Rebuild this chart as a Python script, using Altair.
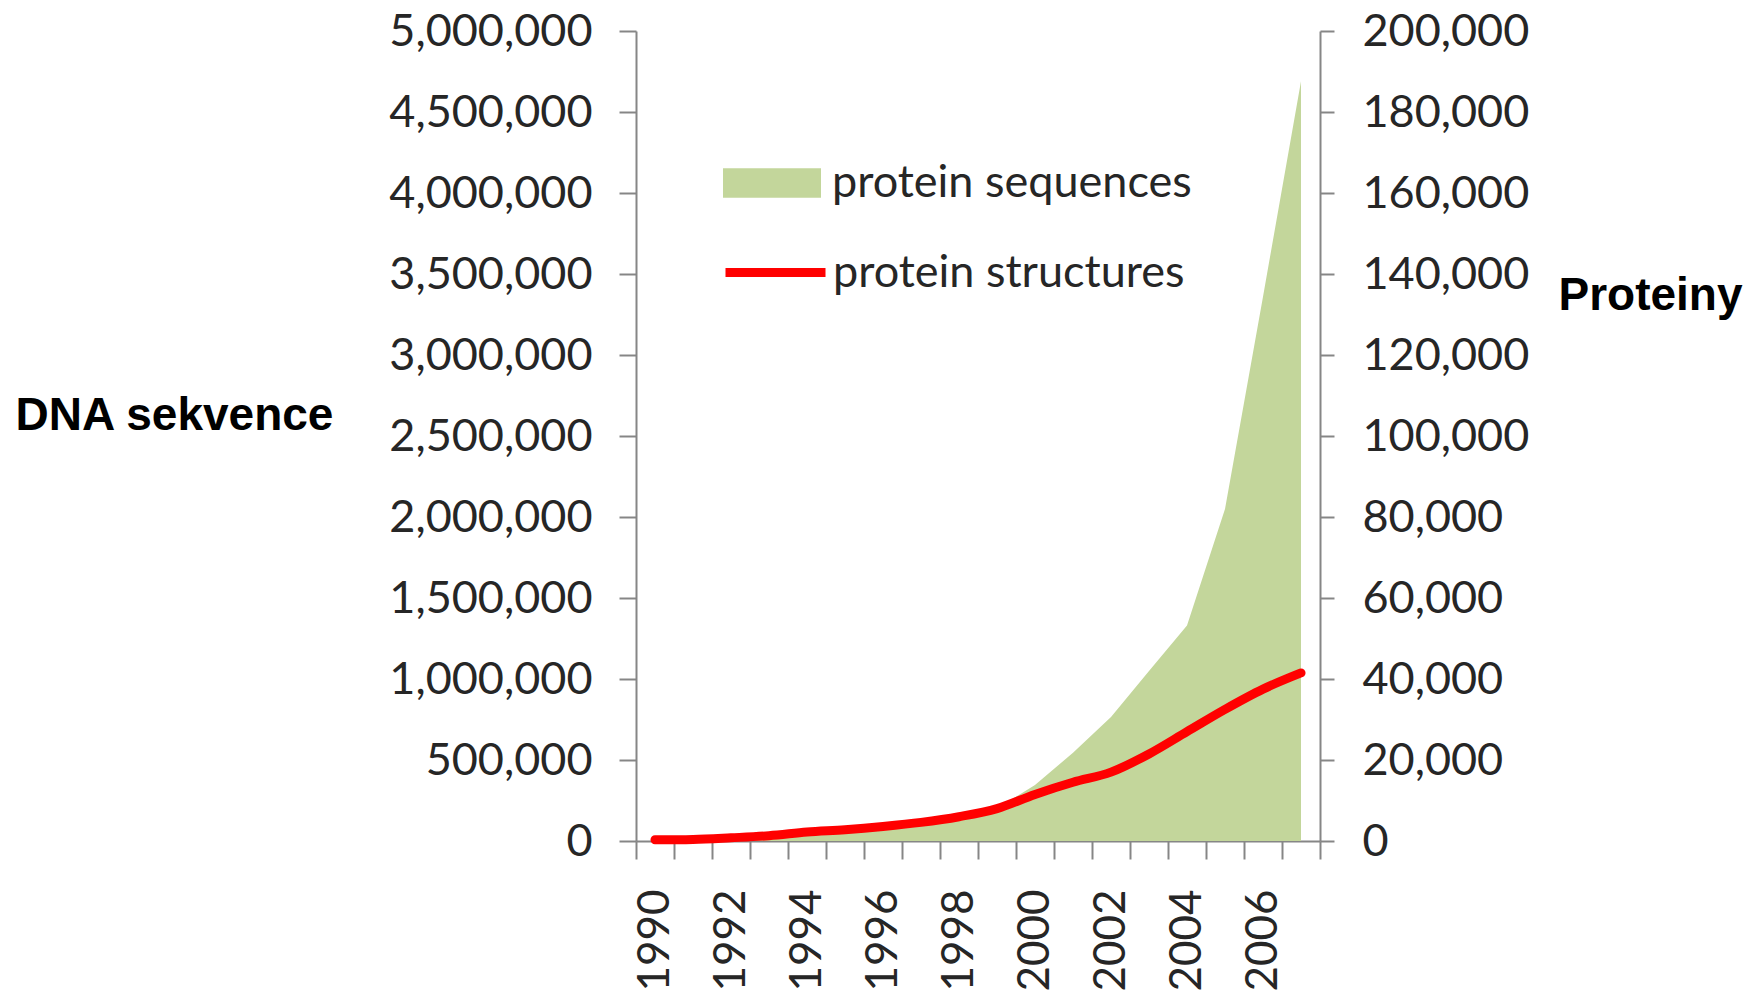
import altair as alt
import pandas as pd

# ---- data ----
years = [1990, 1991, 1992, 1993, 1994, 1995, 1996, 1997, 1998,
         1999, 2000, 2001, 2002, 2003, 2004, 2005, 2006, 2007]
protein_sequences = [10000, 15000, 22000, 35000, 55000, 70000, 90000, 115000, 150000,
                     200000, 345000, 545000, 765000, 1050000, 1330000, 2050000, 3360000, 4690000]
protein_structures = [300, 400, 800, 1300, 2200, 2800, 3600, 4600, 6000,
                      8000, 11500, 14500, 17000, 21500, 27000, 32500, 37500, 41500]

left_ticks = [0, 500000, 1000000, 1500000, 2000000, 2500000,
              3000000, 3500000, 4000000, 4500000, 5000000]
right_ticks = [0, 20000, 40000, 60000, 80000, 100000,
               120000, 140000, 160000, 180000, 200000]

series_names = ["protein sequences", "protein structures"]
colors = ["#C3D69B", "#FF0000"]

df = pd.DataFrame({"year": years, "seq": protein_sequences, "struct": protein_structures})

AX = "#868686"
TXT = "#262626"
LBL_FONT = "Lato"
LBL_SIZE = 45

x_enc = alt.X(
    "year:O",
    bandPosition=0.5,
    scale=alt.Scale(type="band", paddingInner=0, paddingOuter=0),
    axis=alt.Axis(
        title=None,
        tickBand="extent",
        labelAngle=270,
        labelExpr="datum.value % 2 === 0 ? datum.label : ''",
        labelFont=LBL_FONT,
        labelFontSize=44,
        labelColor=TXT,
        labelPadding=30,
        labelLimit=400,
        tickSize=18,
        tickColor=AX,
        tickWidth=2,
        domainColor=AX,
        domainWidth=2,
        grid=False,
    ),
)

area = (
    alt.Chart(df)
    .transform_calculate(series="'protein sequences'")
    .mark_area(opacity=1, interpolate="linear")
    .encode(
        x=x_enc,
        y=alt.Y(
            "seq:Q",
            scale=alt.Scale(domain=[0, 5000000], nice=False),
            axis=alt.Axis(
                orient="left",
                values=left_ticks,
                format=",.0f",
                grid=False,
                labelFont=LBL_FONT,
                labelFontSize=LBL_SIZE,
                labelColor=TXT,
                labelPadding=27,
                labelLimit=400,
                tickSize=17,
                tickColor=AX,
                tickWidth=2,
                domainColor=AX,
                domainWidth=2,
                title="DNA sekvence",
                titleAngle=0,
                titleFont="Liberation Sans",
                titleFontWeight="bold",
                titleFontSize=46,
                titleColor="#000000",
                titleAlign="left",
                titleBaseline="middle",
                titleX=-621,
                titleY=384,
                titleLimit=600,
            ),
        ),
        color=alt.Color(
            "series:N",
            title=None,
            scale=alt.Scale(domain=[series_names[0]], range=[colors[0]]),
            legend=alt.Legend(
                orient="none",
                legendX=87,
                legendY=103,
                padding=0,
                symbolType="M-1,-0.3H1V0.3H-1Z",
                symbolSize=9604,
                symbolStrokeWidth=0,
                symbolOpacity=1,
                labelFont=LBL_FONT,
                labelFontSize=LBL_SIZE,
                labelColor=TXT,
                labelOffset=11,
                labelLimit=600,
            ),
        ),
    )
)

line = (
    alt.Chart(df)
    .transform_calculate(series="'protein structures'")
    .mark_line(strokeWidth=9, strokeCap="round", interpolate="monotone")
    .encode(
        x=x_enc,
        y=alt.Y(
            "struct:Q",
            scale=alt.Scale(domain=[0, 200000], nice=False),
            axis=alt.Axis(
                orient="right",
                values=right_ticks,
                format=",.0f",
                grid=False,
                labelFont=LBL_FONT,
                labelFontSize=LBL_SIZE,
                labelColor=TXT,
                labelPadding=28,
                labelLimit=400,
                tickSize=14,
                tickColor=AX,
                tickWidth=2,
                domainColor=AX,
                domainWidth=2,
                title="Proteiny",
                titleAngle=0,
                titleFont="Liberation Sans",
                titleFontWeight="bold",
                titleFontSize=46,
                titleColor="#000000",
                titleAlign="left",
                titleBaseline="middle",
                titleX=238,
                titleY=264,
                titleLimit=600,
            ),
        ),
        color=alt.Color(
            "series:N",
            title=None,
            scale=alt.Scale(domain=[series_names[1]], range=[colors[1]]),
            legend=alt.Legend(
                orient="none",
                legendX=85,
                legendY=187,
                padding=0,
                symbolType="stroke",
                symbolSize=10000,
                symbolStrokeWidth=9,
                labelFont=LBL_FONT,
                labelFontSize=LBL_SIZE,
                labelColor=TXT,
                labelOffset=3,
                labelLimit=600,
            ),
        ),
    )
)

chart = (
    alt.layer(area, line)
    .resolve_scale(y="independent", color="independent")
    .properties(
        width=684,
        height=810,
        padding={"left": 628, "top": 23, "right": 430, "bottom": 150},
        autosize=alt.AutoSizeParams(type="none"),
        background="white",
    )
    .configure_view(strokeWidth=0)
)

chart.save("out.html", embed_options={"renderer": "svg", "actions": False})
